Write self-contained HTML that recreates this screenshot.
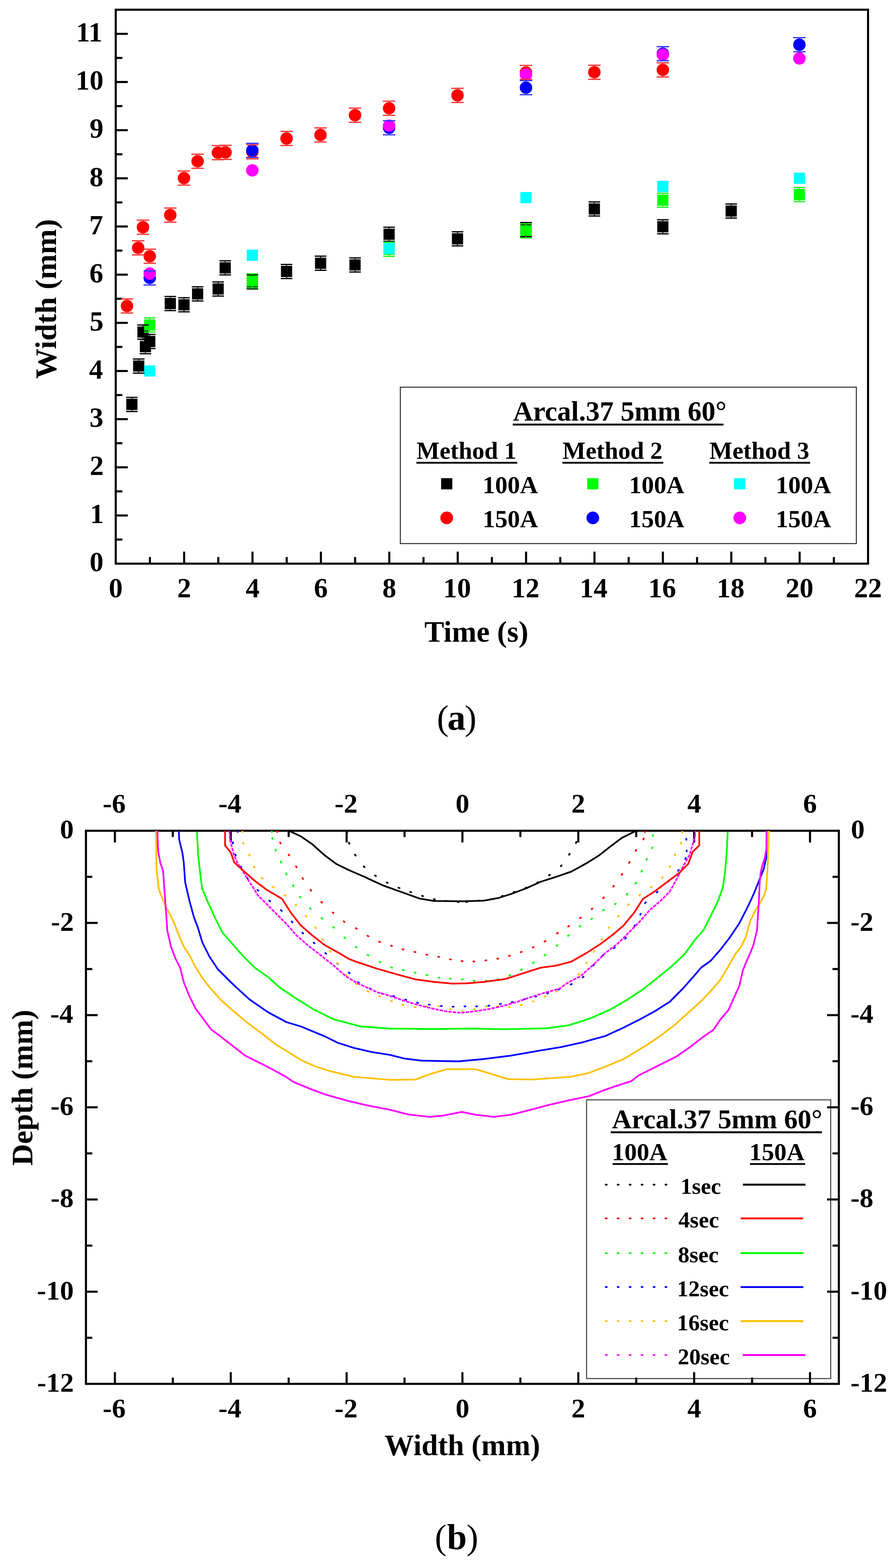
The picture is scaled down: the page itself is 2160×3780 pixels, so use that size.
<!DOCTYPE html>
<html><head><meta charset="utf-8"><style>
html,body{margin:0;padding:0;background:#fff;width:2160px;height:3780px;overflow:hidden;}
svg{display:block;}
text{font-family:'Liberation Serif','Times New Roman',serif;fill:#000;}
</style></head><body>
<svg width="2160" height="3780" viewBox="0 0 2160 3780">
<defs><clipPath id="clipb"><rect x="207.2" y="2002.7" width="1815.0" height="1333.3999999999999"/></clipPath></defs>
<rect width="2160" height="3780" fill="#fff"/>
<line x1="361.4" y1="1358.8" x2="361.4" y2="1342.8" stroke="#000" stroke-width="5"/>
<line x1="443.9" y1="1358.8" x2="443.9" y2="1329.8" stroke="#000" stroke-width="5"/>
<line x1="526.3" y1="1358.8" x2="526.3" y2="1342.8" stroke="#000" stroke-width="5"/>
<line x1="608.7" y1="1358.8" x2="608.7" y2="1329.8" stroke="#000" stroke-width="5"/>
<line x1="691.2" y1="1358.8" x2="691.2" y2="1342.8" stroke="#000" stroke-width="5"/>
<line x1="773.6" y1="1358.8" x2="773.6" y2="1329.8" stroke="#000" stroke-width="5"/>
<line x1="856.1" y1="1358.8" x2="856.1" y2="1342.8" stroke="#000" stroke-width="5"/>
<line x1="938.5" y1="1358.8" x2="938.5" y2="1329.8" stroke="#000" stroke-width="5"/>
<line x1="1020.9" y1="1358.8" x2="1020.9" y2="1342.8" stroke="#000" stroke-width="5"/>
<line x1="1103.4" y1="1358.8" x2="1103.4" y2="1329.8" stroke="#000" stroke-width="5"/>
<line x1="1185.8" y1="1358.8" x2="1185.8" y2="1342.8" stroke="#000" stroke-width="5"/>
<line x1="1268.2" y1="1358.8" x2="1268.2" y2="1329.8" stroke="#000" stroke-width="5"/>
<line x1="1350.7" y1="1358.8" x2="1350.7" y2="1342.8" stroke="#000" stroke-width="5"/>
<line x1="1433.1" y1="1358.8" x2="1433.1" y2="1329.8" stroke="#000" stroke-width="5"/>
<line x1="1515.5" y1="1358.8" x2="1515.5" y2="1342.8" stroke="#000" stroke-width="5"/>
<line x1="1598.0" y1="1358.8" x2="1598.0" y2="1329.8" stroke="#000" stroke-width="5"/>
<line x1="1680.4" y1="1358.8" x2="1680.4" y2="1342.8" stroke="#000" stroke-width="5"/>
<line x1="1762.9" y1="1358.8" x2="1762.9" y2="1329.8" stroke="#000" stroke-width="5"/>
<line x1="1845.3" y1="1358.8" x2="1845.3" y2="1342.8" stroke="#000" stroke-width="5"/>
<line x1="1927.7" y1="1358.8" x2="1927.7" y2="1329.8" stroke="#000" stroke-width="5"/>
<line x1="2010.2" y1="1358.8" x2="2010.2" y2="1342.8" stroke="#000" stroke-width="5"/>
<line x1="279.0" y1="1300.7" x2="295.0" y2="1300.7" stroke="#000" stroke-width="5"/>
<line x1="279.0" y1="1242.7" x2="308.0" y2="1242.7" stroke="#000" stroke-width="5"/>
<line x1="279.0" y1="1184.6" x2="295.0" y2="1184.6" stroke="#000" stroke-width="5"/>
<line x1="279.0" y1="1126.6" x2="308.0" y2="1126.6" stroke="#000" stroke-width="5"/>
<line x1="279.0" y1="1068.5" x2="295.0" y2="1068.5" stroke="#000" stroke-width="5"/>
<line x1="279.0" y1="1010.5" x2="308.0" y2="1010.5" stroke="#000" stroke-width="5"/>
<line x1="279.0" y1="952.4" x2="295.0" y2="952.4" stroke="#000" stroke-width="5"/>
<line x1="279.0" y1="894.4" x2="308.0" y2="894.4" stroke="#000" stroke-width="5"/>
<line x1="279.0" y1="836.3" x2="295.0" y2="836.3" stroke="#000" stroke-width="5"/>
<line x1="279.0" y1="778.3" x2="308.0" y2="778.3" stroke="#000" stroke-width="5"/>
<line x1="279.0" y1="720.2" x2="295.0" y2="720.2" stroke="#000" stroke-width="5"/>
<line x1="279.0" y1="662.1" x2="308.0" y2="662.1" stroke="#000" stroke-width="5"/>
<line x1="279.0" y1="604.1" x2="295.0" y2="604.1" stroke="#000" stroke-width="5"/>
<line x1="279.0" y1="546.0" x2="308.0" y2="546.0" stroke="#000" stroke-width="5"/>
<line x1="279.0" y1="488.0" x2="295.0" y2="488.0" stroke="#000" stroke-width="5"/>
<line x1="279.0" y1="429.9" x2="308.0" y2="429.9" stroke="#000" stroke-width="5"/>
<line x1="279.0" y1="371.9" x2="295.0" y2="371.9" stroke="#000" stroke-width="5"/>
<line x1="279.0" y1="313.8" x2="308.0" y2="313.8" stroke="#000" stroke-width="5"/>
<line x1="279.0" y1="255.8" x2="295.0" y2="255.8" stroke="#000" stroke-width="5"/>
<line x1="279.0" y1="197.7" x2="308.0" y2="197.7" stroke="#000" stroke-width="5"/>
<line x1="279.0" y1="139.7" x2="295.0" y2="139.7" stroke="#000" stroke-width="5"/>
<line x1="279.0" y1="81.6" x2="308.0" y2="81.6" stroke="#000" stroke-width="5"/>
<rect x="279.0" y="23.4" width="1813.6" height="1335.4" fill="none" stroke="#000" stroke-width="5"/>
<text x="216.1" y="1377.4" font-size="67" font-weight="bold" text-anchor="start">0</text>
<text x="217.0" y="1261.3" font-size="67" font-weight="bold" text-anchor="start">1</text>
<text x="216.4" y="1145.2" font-size="67" font-weight="bold" text-anchor="start">2</text>
<text x="215.8" y="1029.1" font-size="67" font-weight="bold" text-anchor="start">3</text>
<text x="214.7" y="913.0" font-size="67" font-weight="bold" text-anchor="start">4</text>
<text x="216.0" y="796.9" font-size="67" font-weight="bold" text-anchor="start">5</text>
<text x="215.5" y="680.7" font-size="67" font-weight="bold" text-anchor="start">6</text>
<text x="215.1" y="564.6" font-size="67" font-weight="bold" text-anchor="start">7</text>
<text x="215.7" y="448.5" font-size="67" font-weight="bold" text-anchor="start">8</text>
<text x="215.9" y="332.4" font-size="67" font-weight="bold" text-anchor="start">9</text>
<text x="182.6" y="216.3" font-size="67" font-weight="bold" text-anchor="start">10</text>
<text x="183.5" y="100.2" font-size="67" font-weight="bold" text-anchor="start">11</text>
<text x="262.2" y="1439.6" font-size="67" font-weight="bold" text-anchor="start">0</text>
<text x="427.2" y="1439.6" font-size="67" font-weight="bold" text-anchor="start">2</text>
<text x="592.2" y="1439.6" font-size="67" font-weight="bold" text-anchor="start">4</text>
<text x="756.7" y="1439.6" font-size="67" font-weight="bold" text-anchor="start">6</text>
<text x="921.7" y="1439.6" font-size="67" font-weight="bold" text-anchor="start">8</text>
<text x="1068.5" y="1439.6" font-size="67" font-weight="bold" text-anchor="start">10</text>
<text x="1233.5" y="1439.6" font-size="67" font-weight="bold" text-anchor="start">12</text>
<text x="1397.5" y="1439.6" font-size="67" font-weight="bold" text-anchor="start">14</text>
<text x="1562.8" y="1439.6" font-size="67" font-weight="bold" text-anchor="start">16</text>
<text x="1727.8" y="1439.6" font-size="67" font-weight="bold" text-anchor="start">18</text>
<text x="1894.1" y="1439.6" font-size="67" font-weight="bold" text-anchor="start">20</text>
<text x="2059.1" y="1439.6" font-size="67" font-weight="bold" text-anchor="start">22</text>
<text x="1022.9" y="1546.8" font-size="71.5" font-weight="bold" text-anchor="start">Time (s)</text>
<text transform="translate(135.1,912.9) rotate(-90)" font-size="72.8" font-weight="bold">Width (mm)</text>
<text x="1053.2" y="1758.5" font-size="85.5" font-weight="normal">(</text>
<text x="1078.5" y="1758.5" font-size="88" font-weight="bold">a</text>
<text x="1120.2" y="1758.5" font-size="85.5" font-weight="normal">)</text>
<rect x="965.1" y="933.4" width="1099.3" height="377" fill="#fff" stroke="#333" stroke-width="2.5"/>
<text x="1236.7" y="1013.6" font-size="67" font-weight="bold" text-anchor="start">Arcal.37 5mm 60&#176;</text>
<line x1="1236.1" y1="1023.5" x2="1744.2" y2="1023.5" stroke="#000" stroke-width="4.6"/>
<text x="1004.0" y="1105.9" font-size="59" font-weight="bold" text-anchor="start">Method 1</text>
<line x1="1003.8" y1="1115.6" x2="1247.0" y2="1115.6" stroke="#000" stroke-width="4.4"/>
<text x="1356.0" y="1105.9" font-size="59" font-weight="bold" text-anchor="start">Method 2</text>
<line x1="1355.8" y1="1115.6" x2="1599.0" y2="1115.6" stroke="#000" stroke-width="4.4"/>
<text x="1710.0" y="1105.9" font-size="59" font-weight="bold" text-anchor="start">Method 3</text>
<line x1="1709.8" y1="1115.6" x2="1953.0" y2="1115.6" stroke="#000" stroke-width="4.4"/>
<rect x="1063.4" y="1152.7" width="27" height="27" fill="#000"/>
<circle cx="1076.9" cy="1248.5" r="15.3" fill="#f00"/>
<text x="1163.5" y="1189.0" font-size="60" font-weight="bold" text-anchor="start">100A</text>
<text x="1163.5" y="1271.0" font-size="60" font-weight="bold" text-anchor="start">150A</text>
<rect x="1415.6" y="1152.7" width="27" height="27" fill="#0f0"/>
<circle cx="1429.1" cy="1248.5" r="15.3" fill="#00f"/>
<text x="1516.6" y="1189.0" font-size="60" font-weight="bold" text-anchor="start">100A</text>
<text x="1516.6" y="1271.0" font-size="60" font-weight="bold" text-anchor="start">150A</text>
<rect x="1769.8" y="1152.7" width="27" height="27" fill="#0ff"/>
<circle cx="1783.3" cy="1248.5" r="15.3" fill="#f0f"/>
<text x="1870.2" y="1189.0" font-size="60" font-weight="bold" text-anchor="start">100A</text>
<text x="1870.2" y="1271.0" font-size="60" font-weight="bold" text-anchor="start">150A</text>
<rect x="304.4" y="961.4" width="27" height="27" fill="#000"/>
<rect x="320.9" y="868.9" width="27" height="27" fill="#000"/>
<rect x="331.2" y="787.0" width="27" height="27" fill="#000"/>
<rect x="337.1" y="822.2" width="27" height="27" fill="#000"/>
<rect x="347.5" y="809.8" width="27" height="27" fill="#000"/>
<rect x="397.0" y="718.3" width="27" height="27" fill="#000"/>
<rect x="430.0" y="721.3" width="27" height="27" fill="#000"/>
<rect x="462.9" y="695.0" width="27" height="27" fill="#000"/>
<rect x="512.4" y="683.2" width="27" height="27" fill="#000"/>
<rect x="529.4" y="632.3" width="27" height="27" fill="#000"/>
<rect x="594.8" y="666.0" width="27" height="27" fill="#000"/>
<rect x="677.3" y="640.9" width="27" height="27" fill="#000"/>
<rect x="759.4" y="621.1" width="27" height="27" fill="#000"/>
<rect x="842.4" y="625.2" width="27" height="27" fill="#000"/>
<rect x="924.5" y="551.3" width="27" height="27" fill="#000"/>
<rect x="1089.4" y="562.3" width="27" height="27" fill="#000"/>
<rect x="1254.5" y="540.0" width="27" height="27" fill="#000"/>
<rect x="1419.3" y="490.3" width="27" height="27" fill="#000"/>
<rect x="1584.4" y="533.2" width="27" height="27" fill="#000"/>
<rect x="1749.2" y="495.3" width="27" height="27" fill="#000"/>
<circle cx="306.1" cy="737.6" r="15" fill="#f00"/>
<circle cx="333.1" cy="597.4" r="15" fill="#f00"/>
<circle cx="344.7" cy="547.8" r="15" fill="#f00"/>
<circle cx="361.0" cy="617.8" r="15" fill="#f00"/>
<circle cx="410.5" cy="518.4" r="15" fill="#f00"/>
<circle cx="443.5" cy="429.3" r="15" fill="#f00"/>
<circle cx="476.4" cy="388.7" r="15" fill="#f00"/>
<circle cx="525.3" cy="368.1" r="15" fill="#f00"/>
<circle cx="543.7" cy="367.3" r="15" fill="#f00"/>
<circle cx="608.3" cy="366.0" r="15" fill="#f00"/>
<circle cx="690.8" cy="333.8" r="15" fill="#f00"/>
<circle cx="772.6" cy="325.3" r="15" fill="#f00"/>
<circle cx="855.9" cy="277.7" r="15" fill="#f00"/>
<circle cx="938.0" cy="261.0" r="15" fill="#f00"/>
<circle cx="1102.9" cy="229.9" r="15" fill="#f00"/>
<circle cx="1268.0" cy="174.7" r="15" fill="#f00"/>
<circle cx="1432.8" cy="174.2" r="15" fill="#f00"/>
<circle cx="1597.9" cy="168.5" r="15" fill="#f00"/>
<rect x="347.5" y="770.0" width="27" height="27" fill="#0f0"/>
<rect x="594.8" y="663.6" width="27" height="27" fill="#0f0"/>
<rect x="924.5" y="587.5" width="27" height="27" fill="#0f0"/>
<rect x="1254.5" y="543.0" width="27" height="27" fill="#0f0"/>
<rect x="1584.4" y="469.2" width="27" height="27" fill="#0f0"/>
<rect x="1913.6" y="455.5" width="27" height="27" fill="#0f0"/>
<circle cx="361.0" cy="670.0" r="15" fill="#00f"/>
<circle cx="608.3" cy="362.6" r="15" fill="#00f"/>
<circle cx="938.0" cy="308.1" r="15" fill="#00f"/>
<circle cx="1268.0" cy="211.3" r="15" fill="#00f"/>
<circle cx="1597.9" cy="129.4" r="15" fill="#00f"/>
<circle cx="1927.1" cy="107.8" r="15" fill="#00f"/>
<rect x="347.5" y="880.7" width="27" height="27" fill="#0ff"/>
<rect x="594.8" y="601.8" width="27" height="27" fill="#0ff"/>
<rect x="924.5" y="585.4" width="27" height="27" fill="#0ff"/>
<rect x="1254.5" y="462.9" width="27" height="27" fill="#0ff"/>
<rect x="1584.4" y="436.0" width="27" height="27" fill="#0ff"/>
<rect x="1913.6" y="416.2" width="27" height="27" fill="#0ff"/>
<circle cx="361.0" cy="659.6" r="15" fill="#f0f"/>
<circle cx="608.3" cy="410.7" r="15" fill="#f0f"/>
<circle cx="938.0" cy="303.0" r="15" fill="#f0f"/>
<circle cx="1268.0" cy="179.7" r="15" fill="#f0f"/>
<circle cx="1597.9" cy="132.0" r="15" fill="#f0f"/>
<circle cx="1927.1" cy="140.8" r="15" fill="#f0f"/>
<path d="M303.9 957.9H331.9M303.9 991.9H331.9" stroke="#000" stroke-width="3" fill="none"/>
<path d="M317.9 957.9V961.9M317.9 987.9V991.9" stroke="#000" stroke-width="2" fill="none"/>
<path d="M320.4 865.4H348.4M320.4 899.4H348.4" stroke="#000" stroke-width="3" fill="none"/>
<path d="M334.4 865.4V869.4M334.4 895.4V899.4" stroke="#000" stroke-width="2" fill="none"/>
<path d="M330.7 783.5H358.7M330.7 817.5H358.7" stroke="#000" stroke-width="3" fill="none"/>
<path d="M344.7 783.5V787.5M344.7 813.5V817.5" stroke="#000" stroke-width="2" fill="none"/>
<path d="M336.6 818.7H364.6M336.6 852.7H364.6" stroke="#000" stroke-width="3" fill="none"/>
<path d="M350.6 818.7V822.7M350.6 848.7V852.7" stroke="#000" stroke-width="2" fill="none"/>
<path d="M347.0 806.3H375.0M347.0 840.3H375.0" stroke="#000" stroke-width="3" fill="none"/>
<path d="M361.0 806.3V810.3M361.0 836.3V840.3" stroke="#000" stroke-width="2" fill="none"/>
<path d="M396.5 714.8H424.5M396.5 748.8H424.5" stroke="#000" stroke-width="3" fill="none"/>
<path d="M410.5 714.8V718.8M410.5 744.8V748.8" stroke="#000" stroke-width="2" fill="none"/>
<path d="M429.5 717.8H457.5M429.5 751.8H457.5" stroke="#000" stroke-width="3" fill="none"/>
<path d="M443.5 717.8V721.8M443.5 747.8V751.8" stroke="#000" stroke-width="2" fill="none"/>
<path d="M462.4 691.5H490.4M462.4 725.5H490.4" stroke="#000" stroke-width="3" fill="none"/>
<path d="M476.4 691.5V695.5M476.4 721.5V725.5" stroke="#000" stroke-width="2" fill="none"/>
<path d="M511.9 679.7H539.9M511.9 713.7H539.9" stroke="#000" stroke-width="3" fill="none"/>
<path d="M525.9 679.7V683.7M525.9 709.7V713.7" stroke="#000" stroke-width="2" fill="none"/>
<path d="M528.9 628.8H556.9M528.9 662.8H556.9" stroke="#000" stroke-width="3" fill="none"/>
<path d="M542.9 628.8V632.8M542.9 658.8V662.8" stroke="#000" stroke-width="2" fill="none"/>
<path d="M594.3 662.5H622.3M594.3 696.5H622.3" stroke="#000" stroke-width="3" fill="none"/>
<path d="M608.3 662.5V666.5M608.3 692.5V696.5" stroke="#000" stroke-width="2" fill="none"/>
<path d="M676.8 637.4H704.8M676.8 671.4H704.8" stroke="#000" stroke-width="3" fill="none"/>
<path d="M690.8 637.4V641.4M690.8 667.4V671.4" stroke="#000" stroke-width="2" fill="none"/>
<path d="M758.9 617.6H786.9M758.9 651.6H786.9" stroke="#000" stroke-width="3" fill="none"/>
<path d="M772.9 617.6V621.6M772.9 647.6V651.6" stroke="#000" stroke-width="2" fill="none"/>
<path d="M841.9 621.7H869.9M841.9 655.7H869.9" stroke="#000" stroke-width="3" fill="none"/>
<path d="M855.9 621.7V625.7M855.9 651.7V655.7" stroke="#000" stroke-width="2" fill="none"/>
<path d="M924.0 547.8H952.0M924.0 581.8H952.0" stroke="#000" stroke-width="3" fill="none"/>
<path d="M938.0 547.8V551.8M938.0 577.8V581.8" stroke="#000" stroke-width="2" fill="none"/>
<path d="M1088.9 558.8H1116.9M1088.9 592.8H1116.9" stroke="#000" stroke-width="3" fill="none"/>
<path d="M1102.9 558.8V562.8M1102.9 588.8V592.8" stroke="#000" stroke-width="2" fill="none"/>
<path d="M1254.0 536.5H1282.0M1254.0 570.5H1282.0" stroke="#000" stroke-width="3" fill="none"/>
<path d="M1268.0 536.5V540.5M1268.0 566.5V570.5" stroke="#000" stroke-width="2" fill="none"/>
<path d="M1418.8 486.8H1446.8M1418.8 520.8H1446.8" stroke="#000" stroke-width="3" fill="none"/>
<path d="M1432.8 486.8V490.8M1432.8 516.8V520.8" stroke="#000" stroke-width="2" fill="none"/>
<path d="M1583.9 529.7H1611.9M1583.9 563.7H1611.9" stroke="#000" stroke-width="3" fill="none"/>
<path d="M1597.9 529.7V533.7M1597.9 559.7V563.7" stroke="#000" stroke-width="2" fill="none"/>
<path d="M1748.7 491.8H1776.7M1748.7 525.8H1776.7" stroke="#000" stroke-width="3" fill="none"/>
<path d="M1762.7 491.8V495.8M1762.7 521.8V525.8" stroke="#000" stroke-width="2" fill="none"/>
<path d="M291.1 720.6H321.1M291.1 754.6H321.1" stroke="#f33" stroke-width="3" fill="none"/>
<path d="M306.1 720.6V724.6M306.1 750.6V754.6" stroke="#f33" stroke-width="2" fill="none"/>
<path d="M318.1 580.4H348.1M318.1 614.4H348.1" stroke="#f33" stroke-width="3" fill="none"/>
<path d="M333.1 580.4V584.4M333.1 610.4V614.4" stroke="#f33" stroke-width="2" fill="none"/>
<path d="M329.7 530.8H359.7M329.7 564.8H359.7" stroke="#f33" stroke-width="3" fill="none"/>
<path d="M344.7 530.8V534.8M344.7 560.8V564.8" stroke="#f33" stroke-width="2" fill="none"/>
<path d="M346.0 600.8H376.0M346.0 634.8H376.0" stroke="#f33" stroke-width="3" fill="none"/>
<path d="M361.0 600.8V604.8M361.0 630.8V634.8" stroke="#f33" stroke-width="2" fill="none"/>
<path d="M395.5 501.4H425.5M395.5 535.4H425.5" stroke="#f33" stroke-width="3" fill="none"/>
<path d="M410.5 501.4V505.4M410.5 531.4V535.4" stroke="#f33" stroke-width="2" fill="none"/>
<path d="M428.5 412.3H458.5M428.5 446.3H458.5" stroke="#f33" stroke-width="3" fill="none"/>
<path d="M443.5 412.3V416.3M443.5 442.3V446.3" stroke="#f33" stroke-width="2" fill="none"/>
<path d="M461.4 371.7H491.4M461.4 405.7H491.4" stroke="#f33" stroke-width="3" fill="none"/>
<path d="M476.4 371.7V375.7M476.4 401.7V405.7" stroke="#f33" stroke-width="2" fill="none"/>
<path d="M510.3 351.1H540.3M510.3 385.1H540.3" stroke="#f33" stroke-width="3" fill="none"/>
<path d="M525.3 351.1V355.1M525.3 381.1V385.1" stroke="#f33" stroke-width="2" fill="none"/>
<path d="M528.7 350.3H558.7M528.7 384.3H558.7" stroke="#f33" stroke-width="3" fill="none"/>
<path d="M543.7 350.3V354.3M543.7 380.3V384.3" stroke="#f33" stroke-width="2" fill="none"/>
<path d="M593.3 349.0H623.3M593.3 383.0H623.3" stroke="#f33" stroke-width="3" fill="none"/>
<path d="M608.3 349.0V353.0M608.3 379.0V383.0" stroke="#f33" stroke-width="2" fill="none"/>
<path d="M675.8 316.8H705.8M675.8 350.8H705.8" stroke="#f33" stroke-width="3" fill="none"/>
<path d="M690.8 316.8V320.8M690.8 346.8V350.8" stroke="#f33" stroke-width="2" fill="none"/>
<path d="M757.6 308.3H787.6M757.6 342.3H787.6" stroke="#f33" stroke-width="3" fill="none"/>
<path d="M772.6 308.3V312.3M772.6 338.3V342.3" stroke="#f33" stroke-width="2" fill="none"/>
<path d="M840.9 260.7H870.9M840.9 294.7H870.9" stroke="#f33" stroke-width="3" fill="none"/>
<path d="M855.9 260.7V264.7M855.9 290.7V294.7" stroke="#f33" stroke-width="2" fill="none"/>
<path d="M923.0 244.0H953.0M923.0 278.0H953.0" stroke="#f33" stroke-width="3" fill="none"/>
<path d="M938.0 244.0V248.0M938.0 274.0V278.0" stroke="#f33" stroke-width="2" fill="none"/>
<path d="M1087.9 212.9H1117.9M1087.9 246.9H1117.9" stroke="#f33" stroke-width="3" fill="none"/>
<path d="M1102.9 212.9V216.9M1102.9 242.9V246.9" stroke="#f33" stroke-width="2" fill="none"/>
<path d="M1253.0 157.7H1283.0M1253.0 191.7H1283.0" stroke="#f33" stroke-width="3" fill="none"/>
<path d="M1268.0 157.7V161.7M1268.0 187.7V191.7" stroke="#f33" stroke-width="2" fill="none"/>
<path d="M1417.8 157.2H1447.8M1417.8 191.2H1447.8" stroke="#f33" stroke-width="3" fill="none"/>
<path d="M1432.8 157.2V161.2M1432.8 187.2V191.2" stroke="#f33" stroke-width="2" fill="none"/>
<path d="M1582.9 151.5H1612.9M1582.9 185.5H1612.9" stroke="#f33" stroke-width="3" fill="none"/>
<path d="M1597.9 151.5V155.5M1597.9 181.5V185.5" stroke="#f33" stroke-width="2" fill="none"/>
<path d="M347.0 766.5H375.0M347.0 800.5H375.0" stroke="#2e2" stroke-width="3" fill="none"/>
<path d="M361.0 766.5V770.5M361.0 796.5V800.5" stroke="#2e2" stroke-width="2" fill="none"/>
<path d="M594.3 660.1H622.3M594.3 694.1H622.3" stroke="#2e2" stroke-width="3" fill="none"/>
<path d="M608.3 660.1V664.1M608.3 690.1V694.1" stroke="#2e2" stroke-width="2" fill="none"/>
<path d="M924.0 584.0H952.0M924.0 618.0H952.0" stroke="#2e2" stroke-width="3" fill="none"/>
<path d="M938.0 584.0V588.0M938.0 614.0V618.0" stroke="#2e2" stroke-width="2" fill="none"/>
<path d="M1254.0 539.5H1282.0M1254.0 573.5H1282.0" stroke="#2e2" stroke-width="3" fill="none"/>
<path d="M1268.0 539.5V543.5M1268.0 569.5V573.5" stroke="#2e2" stroke-width="2" fill="none"/>
<path d="M1583.9 465.7H1611.9M1583.9 499.7H1611.9" stroke="#2e2" stroke-width="3" fill="none"/>
<path d="M1597.9 465.7V469.7M1597.9 495.7V499.7" stroke="#2e2" stroke-width="2" fill="none"/>
<path d="M1913.1 452.0H1941.1M1913.1 486.0H1941.1" stroke="#2e2" stroke-width="3" fill="none"/>
<path d="M1927.1 452.0V456.0M1927.1 482.0V486.0" stroke="#2e2" stroke-width="2" fill="none"/>
<path d="M346.0 653.0H376.0M346.0 687.0H376.0" stroke="#33f" stroke-width="3" fill="none"/>
<path d="M361.0 653.0V657.0M361.0 683.0V687.0" stroke="#33f" stroke-width="2" fill="none"/>
<path d="M593.3 345.6H623.3M593.3 379.6H623.3" stroke="#33f" stroke-width="3" fill="none"/>
<path d="M608.3 345.6V349.6M608.3 375.6V379.6" stroke="#33f" stroke-width="2" fill="none"/>
<path d="M923.0 291.1H953.0M923.0 325.1H953.0" stroke="#33f" stroke-width="3" fill="none"/>
<path d="M938.0 291.1V295.1M938.0 321.1V325.1" stroke="#33f" stroke-width="2" fill="none"/>
<path d="M1253.0 194.3H1283.0M1253.0 228.3H1283.0" stroke="#33f" stroke-width="3" fill="none"/>
<path d="M1268.0 194.3V198.3M1268.0 224.3V228.3" stroke="#33f" stroke-width="2" fill="none"/>
<path d="M1582.9 112.4H1612.9M1582.9 146.4H1612.9" stroke="#33f" stroke-width="3" fill="none"/>
<path d="M1597.9 112.4V116.4M1597.9 142.4V146.4" stroke="#33f" stroke-width="2" fill="none"/>
<path d="M1912.1 90.8H1942.1M1912.1 124.8H1942.1" stroke="#33f" stroke-width="3" fill="none"/>
<path d="M1927.1 90.8V94.8M1927.1 120.8V124.8" stroke="#33f" stroke-width="2" fill="none"/>
<rect x="1414.0" y="2651.4" width="588.6" height="671.9" fill="#fff" stroke="#444" stroke-width="2.5"/>
<text x="1475.2" y="2720.0" font-size="66" font-weight="bold" text-anchor="start">Arcal.37 5mm 60&#176;</text>
<line x1="1472.4" y1="2729.6" x2="1981.3" y2="2729.6" stroke="#000" stroke-width="4.6"/>
<text x="1475.2" y="2796.7" font-size="60" font-weight="bold" text-anchor="start">100A</text>
<line x1="1476.7" y1="2806.1" x2="1610.0" y2="2806.1" stroke="#000" stroke-width="4.4"/>
<text x="1806.2" y="2796.7" font-size="60" font-weight="bold" text-anchor="start">150A</text>
<line x1="1808.0" y1="2806.1" x2="1940.9" y2="2806.1" stroke="#000" stroke-width="4.4"/>
<path d="M1460.2 2855.9L1462.8 2855.9M1489.0 2855.9L1491.5 2855.9M1517.8 2855.9L1520.3 2855.9M1546.7 2855.9L1549.2 2855.9M1575.5 2855.9L1578.0 2855.9M1604.2 2855.9L1606.8 2855.9" stroke="#000" stroke-width="4.2" stroke-linecap="round" fill="none"/>
<line x1="1791.0" y1="2855.9" x2="1941.7" y2="2855.9" stroke="#000" stroke-width="4.6"/>
<text x="1640.5" y="2877.9" font-size="55" font-weight="bold" text-anchor="start">1sec</text>
<path d="M1460.2 2937.3L1462.8 2937.3M1489.0 2937.3L1491.5 2937.3M1517.8 2937.3L1520.3 2937.3M1546.7 2937.3L1549.2 2937.3M1575.5 2937.3L1578.0 2937.3M1604.2 2937.3L1606.8 2937.3" stroke="#f00" stroke-width="4.2" stroke-linecap="round" fill="none"/>
<line x1="1785.4" y1="2937.3" x2="1935.8" y2="2937.3" stroke="#f00" stroke-width="4.6"/>
<text x="1635.6" y="2959.3" font-size="55" font-weight="bold" text-anchor="start">4sec</text>
<path d="M1460.2 3020.9L1462.8 3020.9M1489.0 3020.9L1491.5 3020.9M1517.8 3020.9L1520.3 3020.9M1546.7 3020.9L1549.2 3020.9M1575.5 3020.9L1578.0 3020.9M1604.2 3020.9L1606.8 3020.9" stroke="#0f0" stroke-width="4.2" stroke-linecap="round" fill="none"/>
<line x1="1785.4" y1="3020.9" x2="1936.6" y2="3020.9" stroke="#0f0" stroke-width="4.6"/>
<text x="1634.6" y="3042.9" font-size="55" font-weight="bold" text-anchor="start">8sec</text>
<path d="M1460.2 3102.7L1462.8 3102.7M1489.0 3102.7L1491.5 3102.7M1517.8 3102.7L1520.3 3102.7M1546.7 3102.7L1549.2 3102.7M1575.5 3102.7L1578.0 3102.7M1604.2 3102.7L1606.8 3102.7" stroke="#00f" stroke-width="4.2" stroke-linecap="round" fill="none"/>
<line x1="1785.4" y1="3102.7" x2="1936.6" y2="3102.7" stroke="#00f" stroke-width="4.6"/>
<text x="1632.0" y="3124.7" font-size="55" font-weight="bold" text-anchor="start">12sec</text>
<path d="M1460.2 3184.9L1462.8 3184.9M1489.0 3184.9L1491.5 3184.9M1517.8 3184.9L1520.3 3184.9M1546.7 3184.9L1549.2 3184.9M1575.5 3184.9L1578.0 3184.9M1604.2 3184.9L1606.8 3184.9" stroke="#ffc000" stroke-width="4.2" stroke-linecap="round" fill="none"/>
<line x1="1785.4" y1="3184.9" x2="1936.6" y2="3184.9" stroke="#ffc000" stroke-width="4.6"/>
<text x="1632.0" y="3206.9" font-size="55" font-weight="bold" text-anchor="start">16sec</text>
<path d="M1460.2 3266.6L1462.8 3266.6M1489.0 3266.6L1491.5 3266.6M1517.8 3266.6L1520.3 3266.6M1546.7 3266.6L1549.2 3266.6M1575.5 3266.6L1578.0 3266.6M1604.2 3266.6L1606.8 3266.6" stroke="#f0f" stroke-width="4.2" stroke-linecap="round" fill="none"/>
<line x1="1790.5" y1="3266.6" x2="1941.7" y2="3266.6" stroke="#f0f" stroke-width="4.6"/>
<text x="1634.1" y="3288.6" font-size="55" font-weight="bold" text-anchor="start">20sec</text>
<line x1="277.0" y1="2002.7" x2="277.0" y2="2031.0" stroke="#000" stroke-width="5"/>
<line x1="277.0" y1="3336.1" x2="277.0" y2="3307.8" stroke="#000" stroke-width="5"/>
<line x1="416.6" y1="2002.7" x2="416.6" y2="2017.9" stroke="#000" stroke-width="5"/>
<line x1="416.6" y1="3336.1" x2="416.6" y2="3320.9" stroke="#000" stroke-width="5"/>
<line x1="556.3" y1="2002.7" x2="556.3" y2="2031.0" stroke="#000" stroke-width="5"/>
<line x1="556.3" y1="3336.1" x2="556.3" y2="3307.8" stroke="#000" stroke-width="5"/>
<line x1="695.9" y1="2002.7" x2="695.9" y2="2017.9" stroke="#000" stroke-width="5"/>
<line x1="695.9" y1="3336.1" x2="695.9" y2="3320.9" stroke="#000" stroke-width="5"/>
<line x1="835.6" y1="2002.7" x2="835.6" y2="2031.0" stroke="#000" stroke-width="5"/>
<line x1="835.6" y1="3336.1" x2="835.6" y2="3307.8" stroke="#000" stroke-width="5"/>
<line x1="975.2" y1="2002.7" x2="975.2" y2="2017.9" stroke="#000" stroke-width="5"/>
<line x1="975.2" y1="3336.1" x2="975.2" y2="3320.9" stroke="#000" stroke-width="5"/>
<line x1="1114.8" y1="2002.7" x2="1114.8" y2="2031.0" stroke="#000" stroke-width="5"/>
<line x1="1114.8" y1="3336.1" x2="1114.8" y2="3307.8" stroke="#000" stroke-width="5"/>
<line x1="1254.5" y1="2002.7" x2="1254.5" y2="2017.9" stroke="#000" stroke-width="5"/>
<line x1="1254.5" y1="3336.1" x2="1254.5" y2="3320.9" stroke="#000" stroke-width="5"/>
<line x1="1394.1" y1="2002.7" x2="1394.1" y2="2031.0" stroke="#000" stroke-width="5"/>
<line x1="1394.1" y1="3336.1" x2="1394.1" y2="3307.8" stroke="#000" stroke-width="5"/>
<line x1="1533.8" y1="2002.7" x2="1533.8" y2="2017.9" stroke="#000" stroke-width="5"/>
<line x1="1533.8" y1="3336.1" x2="1533.8" y2="3320.9" stroke="#000" stroke-width="5"/>
<line x1="1673.4" y1="2002.7" x2="1673.4" y2="2031.0" stroke="#000" stroke-width="5"/>
<line x1="1673.4" y1="3336.1" x2="1673.4" y2="3307.8" stroke="#000" stroke-width="5"/>
<line x1="1813.0" y1="2002.7" x2="1813.0" y2="2017.9" stroke="#000" stroke-width="5"/>
<line x1="1813.0" y1="3336.1" x2="1813.0" y2="3320.9" stroke="#000" stroke-width="5"/>
<line x1="1952.7" y1="2002.7" x2="1952.7" y2="2031.0" stroke="#000" stroke-width="5"/>
<line x1="1952.7" y1="3336.1" x2="1952.7" y2="3307.8" stroke="#000" stroke-width="5"/>
<line x1="207.2" y1="2113.8" x2="222.5" y2="2113.8" stroke="#000" stroke-width="5"/>
<line x1="2022.2" y1="2113.8" x2="2006.9" y2="2113.8" stroke="#000" stroke-width="5"/>
<line x1="207.2" y1="2224.9" x2="235.5" y2="2224.9" stroke="#000" stroke-width="5"/>
<line x1="2022.2" y1="2224.9" x2="1993.9" y2="2224.9" stroke="#000" stroke-width="5"/>
<line x1="207.2" y1="2336.1" x2="222.5" y2="2336.1" stroke="#000" stroke-width="5"/>
<line x1="2022.2" y1="2336.1" x2="2006.9" y2="2336.1" stroke="#000" stroke-width="5"/>
<line x1="207.2" y1="2447.2" x2="235.5" y2="2447.2" stroke="#000" stroke-width="5"/>
<line x1="2022.2" y1="2447.2" x2="1993.9" y2="2447.2" stroke="#000" stroke-width="5"/>
<line x1="207.2" y1="2558.3" x2="222.5" y2="2558.3" stroke="#000" stroke-width="5"/>
<line x1="2022.2" y1="2558.3" x2="2006.9" y2="2558.3" stroke="#000" stroke-width="5"/>
<line x1="207.2" y1="2669.4" x2="235.5" y2="2669.4" stroke="#000" stroke-width="5"/>
<line x1="2022.2" y1="2669.4" x2="1993.9" y2="2669.4" stroke="#000" stroke-width="5"/>
<line x1="207.2" y1="2780.5" x2="222.5" y2="2780.5" stroke="#000" stroke-width="5"/>
<line x1="2022.2" y1="2780.5" x2="2006.9" y2="2780.5" stroke="#000" stroke-width="5"/>
<line x1="207.2" y1="2891.6" x2="235.5" y2="2891.6" stroke="#000" stroke-width="5"/>
<line x1="2022.2" y1="2891.6" x2="1993.9" y2="2891.6" stroke="#000" stroke-width="5"/>
<line x1="207.2" y1="3002.8" x2="222.5" y2="3002.8" stroke="#000" stroke-width="5"/>
<line x1="2022.2" y1="3002.8" x2="2006.9" y2="3002.8" stroke="#000" stroke-width="5"/>
<line x1="207.2" y1="3113.9" x2="235.5" y2="3113.9" stroke="#000" stroke-width="5"/>
<line x1="2022.2" y1="3113.9" x2="1993.9" y2="3113.9" stroke="#000" stroke-width="5"/>
<line x1="207.2" y1="3225.0" x2="222.5" y2="3225.0" stroke="#000" stroke-width="5"/>
<line x1="2022.2" y1="3225.0" x2="2006.9" y2="3225.0" stroke="#000" stroke-width="5"/>
<rect x="207.2" y="2002.7" width="1815.0" height="1333.4" fill="none" stroke="#000" stroke-width="5"/>
<text x="247.6" y="1958.6" font-size="66.5" font-weight="bold" text-anchor="start">-6</text>
<text x="247.6" y="3417.4" font-size="66.5" font-weight="bold" text-anchor="start">-6</text>
<text x="526.5" y="1958.6" font-size="66.5" font-weight="bold" text-anchor="start">-4</text>
<text x="526.5" y="3417.4" font-size="66.5" font-weight="bold" text-anchor="start">-4</text>
<text x="806.6" y="1958.6" font-size="66.5" font-weight="bold" text-anchor="start">-2</text>
<text x="806.6" y="3417.4" font-size="66.5" font-weight="bold" text-anchor="start">-2</text>
<text x="1098.2" y="1958.6" font-size="66.5" font-weight="bold" text-anchor="start">0</text>
<text x="1098.2" y="3417.4" font-size="66.5" font-weight="bold" text-anchor="start">0</text>
<text x="1377.5" y="1958.6" font-size="66.5" font-weight="bold" text-anchor="start">2</text>
<text x="1377.5" y="3417.4" font-size="66.5" font-weight="bold" text-anchor="start">2</text>
<text x="1656.9" y="1958.6" font-size="66.5" font-weight="bold" text-anchor="start">4</text>
<text x="1656.9" y="3417.4" font-size="66.5" font-weight="bold" text-anchor="start">4</text>
<text x="1935.9" y="1958.6" font-size="66.5" font-weight="bold" text-anchor="start">6</text>
<text x="1935.9" y="3417.4" font-size="66.5" font-weight="bold" text-anchor="start">6</text>
<text x="144.5" y="2021.3" font-size="66.5" font-weight="bold" text-anchor="start">0</text>
<text x="2051.2" y="2021.3" font-size="66.5" font-weight="bold" text-anchor="start">0</text>
<text x="122.7" y="2243.5" font-size="66.5" font-weight="bold" text-anchor="start">-2</text>
<text x="2050.2" y="2243.5" font-size="66.5" font-weight="bold" text-anchor="start">-2</text>
<text x="121.0" y="2465.8" font-size="66.5" font-weight="bold" text-anchor="start">-4</text>
<text x="2050.2" y="2465.8" font-size="66.5" font-weight="bold" text-anchor="start">-4</text>
<text x="121.8" y="2688.0" font-size="66.5" font-weight="bold" text-anchor="start">-6</text>
<text x="2050.2" y="2688.0" font-size="66.5" font-weight="bold" text-anchor="start">-6</text>
<text x="122.0" y="2910.2" font-size="66.5" font-weight="bold" text-anchor="start">-8</text>
<text x="2050.2" y="2910.2" font-size="66.5" font-weight="bold" text-anchor="start">-8</text>
<text x="89.1" y="3132.5" font-size="66.5" font-weight="bold" text-anchor="start">-10</text>
<text x="2050.2" y="3132.5" font-size="66.5" font-weight="bold" text-anchor="start">-10</text>
<text x="89.4" y="3354.7" font-size="66.5" font-weight="bold" text-anchor="start">-12</text>
<text x="2050.2" y="3354.7" font-size="66.5" font-weight="bold" text-anchor="start">-12</text>
<text x="926.8" y="3507.9" font-size="71" font-weight="bold" text-anchor="start">Width (mm)</text>
<text transform="translate(78.3,2810.1) rotate(-90)" font-size="72.4" font-weight="bold">Depth (mm)</text>
<text x="1048.3" y="3733.5" font-size="85" font-weight="normal">(</text>
<text x="1077.5" y="3733.8" font-size="86" font-weight="bold">b</text>
<text x="1124.7" y="3733.5" font-size="85" font-weight="normal">)</text>
<g clip-path="url(#clipb)">
<path d="M836.3 2004.8L836.7 2007.2M841.3 2031.7L842.1 2034.1M855.8 2060.3L857.2 2062.5M876.9 2088.7L878.7 2090.5M904.2 2110.5L906.2 2111.9M932.3 2127.4L934.5 2128.6M960.7 2139.9L963.1 2140.9M988.9 2150.3L991.3 2151.1M1017.4 2159.6L1019.8 2160.4M1045.9 2167.6L1048.3 2168.2M1074.0 2171.9L1076.4 2172.1M1103.2 2174.3L1105.6 2174.5M1123.8 2174.5L1126.2 2174.3M1153.0 2171.4L1155.4 2171.2M1181.2 2168.1L1183.6 2167.7M1209.7 2160.4L1212.1 2159.6M1238.2 2150.8L1240.6 2150.0M1266.7 2140.6L1269.1 2139.6M1294.9 2128.0L1297.1 2126.8M1323.6 2110.2L1325.6 2108.8M1352.1 2088.1L1353.9 2086.3M1371.9 2060.5L1373.3 2058.3M1388.5 2032.0L1389.5 2029.6M1394.2 2007.2L1394.8 2004.8" stroke="#000" stroke-width="4.2" stroke-linecap="round" fill="none"/>
<path d="M667.7 2003.2L668.3 2005.6M675.3 2031.1L676.5 2033.3M695.8 2060.1L697.2 2062.1M713.7 2088.5L714.9 2090.7M729.1 2116.6L730.5 2118.8M748.5 2145.2L750.1 2147.2M774.5 2173.9L776.3 2175.7M802.0 2199.7L803.8 2201.3M828.4 2221.1L830.4 2222.5M857.8 2237.7L860.0 2238.9M885.9 2255.9L888.1 2257.1M913.7 2270.1L916.1 2271.1M942.5 2279.8L944.9 2280.6M970.3 2288.5L972.7 2289.1M999.2 2294.7L1001.6 2295.3M1027.7 2301.3L1030.1 2301.7M1056.2 2306.4L1058.6 2306.8M1084.7 2312.6L1087.1 2313.0M1112.8 2316.8L1115.2 2317.0M1141.0 2317.9L1143.4 2317.9M1170.2 2315.3L1172.6 2315.1M1198.7 2311.3L1201.1 2310.9M1226.8 2304.5L1229.2 2303.9M1255.4 2295.4L1257.8 2294.6M1284.3 2284.1L1286.5 2283.1M1312.8 2269.8L1315.0 2268.6M1342.6 2250.3L1344.8 2248.9M1369.8 2233.7L1371.8 2232.3M1398.3 2213.3L1400.3 2211.9M1426.3 2191.8L1428.1 2190.2M1454.1 2165.2L1455.9 2163.4M1478.3 2137.5L1479.9 2135.5M1498.8 2109.0L1500.2 2107.0M1516.7 2080.1L1517.9 2077.9M1532.3 2051.2L1533.5 2049.0M1550.9 2023.7L1551.9 2021.5M1554.8 2005.6L1555.2 2003.2" stroke="#f00" stroke-width="4.2" stroke-linecap="round" fill="none"/>
<path d="M655.1 2003.2L655.3 2005.6M656.3 2019.7L656.9 2022.1M664.1 2048.2L664.9 2050.6M676.7 2077.2L677.7 2079.4M689.7 2105.7L690.9 2107.9M706.2 2134.2L707.4 2136.4M723.1 2161.7L724.7 2163.7M747.1 2189.3L748.9 2191.1M775.1 2213.1L777.1 2214.7M803.3 2234.7L805.3 2236.3M830.2 2259.8L832.0 2261.4M857.9 2282.9L859.9 2284.3M886.3 2301.8L888.5 2303.2M915.1 2318.4L917.3 2319.6M942.9 2332.0L945.3 2332.8M971.0 2338.3L973.4 2338.9M999.5 2344.4L1001.9 2345.0M1027.7 2350.3L1030.1 2350.9M1056.9 2356.6L1059.3 2357.0M1084.7 2359.1L1087.1 2359.3M1113.5 2360.8L1115.9 2361.0M1142.0 2364.2L1144.4 2364.4M1170.9 2364.4L1173.3 2364.2M1199.4 2361.2L1201.8 2360.6M1227.9 2351.8L1230.3 2350.8M1256.1 2338.1L1258.3 2336.9M1284.6 2321.4L1286.8 2320.0M1312.9 2303.2L1314.9 2301.8M1342.0 2280.1L1344.0 2278.5M1369.4 2256.0L1371.4 2254.4M1397.2 2233.7L1399.2 2232.3M1425.4 2215.8L1427.4 2214.4M1453.9 2194.7L1456.1 2193.3M1482.5 2179.9L1484.5 2178.5M1510.8 2156.7L1512.6 2154.9M1532.2 2130.2L1533.6 2128.0M1546.5 2101.3L1547.5 2099.1M1558.3 2072.7L1559.3 2070.5M1572.3 2045.0L1572.9 2042.6M1573.7 2015.3L1573.7 2012.9" stroke="#0f0" stroke-width="4.2" stroke-linecap="round" fill="none"/>
<path d="M574.0 2003.3L573.0 2005.5M561.6 2030.7L561.4 2033.1M567.3 2059.9L568.1 2062.3M580.8 2089.2L582.0 2091.4M596.2 2116.7L597.6 2118.7M620.7 2145.3L622.5 2147.1M649.2 2171.2L651.0 2172.8M677.3 2194.1L679.1 2195.9M703.1 2221.6L704.9 2223.4M728.9 2248.4L730.7 2250.2M756.3 2272.5L758.1 2274.1M784.5 2297.6L786.3 2299.2M812.9 2322.3L814.9 2323.9M840.8 2344.6L842.6 2346.2M863.0 2367.7L865.0 2369.1M891.4 2382.7L893.6 2383.7M920.2 2394.8L922.6 2395.6M948.0 2401.1L950.4 2401.7M976.8 2409.7L979.2 2410.3M1005.4 2417.2L1007.8 2417.8M1033.9 2421.8L1036.3 2422.2M1062.7 2425.0L1065.1 2425.2M1091.2 2426.8L1093.6 2426.8M1119.7 2426.1L1122.1 2426.1M1147.9 2426.1L1150.3 2426.1M1177.1 2424.5L1179.5 2424.3M1205.2 2420.5L1207.6 2420.1M1233.7 2416.0L1236.1 2415.6M1262.2 2409.3L1264.6 2408.7M1290.4 2402.4L1292.8 2401.8M1318.9 2394.9L1321.3 2394.1M1346.2 2385.4L1348.6 2384.6M1376.0 2373.4L1378.2 2372.2M1404.7 2356.2L1406.7 2354.6M1430.1 2327.7L1431.7 2325.9M1452.1 2304.2L1454.1 2302.6M1480.0 2285.7L1482.0 2284.1M1507.2 2262.8L1508.8 2261.0M1529.2 2232.9L1530.6 2230.7M1543.5 2205.1L1544.5 2202.9M1555.1 2177.2L1556.7 2175.2M1583.2 2151.5L1585.0 2149.7M1610.6 2125.2L1612.4 2123.4M1634.8 2099.3L1636.4 2097.3M1652.2 2070.9L1653.2 2068.5M1655.3 2052.4L1655.3 2050.0M1654.5 2024.6L1654.5 2022.2" stroke="#00f" stroke-width="4.2" stroke-linecap="round" fill="none"/>
<path d="M584.4 2003.2L584.6 2005.6M586.3 2031.7L586.9 2034.1M600.5 2060.3L601.5 2062.5M612.4 2089.2L613.6 2091.4M631.0 2116.2L632.8 2118.0M657.7 2137.9L659.7 2139.5M685.8 2157.5L687.8 2159.1M712.7 2180.7L714.5 2182.5M736.9 2207.9L738.5 2209.7M760.0 2235.6L761.4 2237.6M777.1 2263.6L778.5 2265.8M795.3 2292.8L796.7 2295.0M813.2 2321.4L814.6 2323.4M833.7 2349.7L835.3 2351.5M857.9 2371.1L859.9 2372.7M885.9 2389.5L888.1 2390.7M914.3 2401.6L916.7 2402.6M942.5 2413.0L944.9 2413.8M970.3 2422.4L972.7 2423.0M999.2 2427.7L1001.6 2427.9M1027.7 2426.2L1030.1 2426.0M1056.9 2425.2L1059.3 2425.6M1084.7 2432.7L1087.1 2433.3M1113.5 2438.1L1116.0 2438.1M1142.0 2433.3L1144.4 2432.7M1170.2 2426.3L1172.6 2425.9M1198.7 2426.1L1201.1 2426.1M1226.8 2427.9L1229.2 2427.7M1255.4 2423.0L1257.8 2422.4M1284.2 2414.5L1286.6 2413.7M1312.8 2402.6L1315.0 2401.6M1340.8 2390.4L1343.0 2389.2M1367.5 2370.8L1369.5 2369.2M1394.0 2349.9L1395.8 2348.1M1413.5 2322.2L1414.9 2320.2M1432.0 2294.4L1433.4 2292.4M1449.8 2266.3L1451.2 2264.1M1467.3 2236.9L1468.7 2234.9M1490.2 2209.7L1491.8 2207.9M1514.2 2181.9L1516.0 2180.1M1541.2 2158.4L1543.2 2156.8M1569.0 2139.2L1571.0 2137.6M1595.9 2117.0L1597.5 2115.2M1614.6 2090.5L1615.8 2088.3M1627.0 2061.6L1628.0 2059.4M1641.2 2033.9L1642.0 2031.5M1644.8 2007.2L1645.2 2004.8" stroke="#ffc000" stroke-width="4.2" stroke-linecap="round" fill="none"/>
<polyline points="552.9,2003.0 554.6,2024.3 563.2,2058.7 573.5,2082.7 585.5,2099.9 597.6,2120.5 611.3,2141.1 621.6,2158.3 638.8,2175.4 662.8,2199.5 690.3,2227.0 714.3,2254.4 741.8,2278.5 772.7,2302.5 807.0,2330.0 834.5,2354.0 864.0,2371.2 908.7,2391.8 940.0,2400.6 974.3,2412.6 1008.7,2422.9 1043.0,2431.5 1077.4,2438.4 1111.7,2441.8 1146.0,2437.7 1180.4,2432.2 1214.7,2424.6 1249.1,2414.3 1283.4,2402.3 1317.7,2392.0 1348.7,2383.4 1369.7,2368.3 1399.3,2353.5 1436.4,2320.1 1458.7,2297.9 1488.4,2275.6 1514.3,2249.6 1540.3,2223.7 1566.3,2194.0 1592.2,2171.8 1614.5,2149.5 1633.0,2116.1 1647.9,2086.4 1662.7,2060.5 1670.1,2034.5 1675.7,2014.1 1676.0,2003.0" fill="none" stroke="#f0f" stroke-width="4.0" stroke-linejoin="round" stroke-dasharray="8 2.5"/>
<polyline points="697.1,2003.0 724.6,2015.8 752.1,2034.6 783.0,2062.1 810.5,2082.7 840.0,2097.1 874.3,2111.9 922.4,2134.2 970.5,2151.4 1011.7,2166.2 1046.0,2172.0 1114.7,2172.7 1166.2,2171.3 1200.6,2165.1 1234.9,2154.1 1269.3,2141.1 1303.6,2125.6 1340.0,2114.0 1377.1,2101.3 1414.2,2080.9 1443.9,2062.3 1469.8,2041.9 1499.5,2019.7 1532.9,2003.0" fill="none" stroke="#000" stroke-width="4.1" stroke-linejoin="round"/>
<polyline points="542.6,2003.0 542.6,2038.1 556.3,2055.2 564.9,2079.3 583.8,2096.5 614.7,2123.9 642.2,2144.5 680.0,2166.9 700.6,2199.5 724.6,2230.4 752.1,2254.4 783.0,2278.5 813.9,2295.6 840.0,2311.1 857.2,2318.0 908.7,2335.1 960.2,2349.9 1001.4,2360.9 1046.0,2367.1 1090.7,2371.2 1125.0,2370.5 1166.2,2367.1 1217.7,2360.2 1234.9,2354.7 1269.3,2343.7 1303.6,2332.7 1340.0,2328.0 1377.1,2318.3 1414.2,2297.1 1447.6,2275.6 1477.2,2253.4 1503.2,2231.1 1529.2,2199.6 1549.6,2167.3 1577.4,2149.5 1607.1,2127.2 1636.7,2105.0 1659.0,2082.7 1670.1,2053.1 1685.7,2038.2 1685.7,2003.0" fill="none" stroke="#f00" stroke-width="4.1" stroke-linejoin="round"/>
<polyline points="475.0,2005.0 477.4,2058.7 482.5,2103.3 487.0,2141.1 501.4,2175.4 518.6,2213.2 535.7,2247.6 559.8,2275.0 583.8,2302.5 614.7,2333.4 649.1,2357.4 673.5,2380.0 714.7,2407.5 755.9,2433.2 804.0,2457.3 869.2,2474.4 940.0,2479.6 1043.0,2480.6 1146.0,2479.6 1214.7,2481.3 1317.7,2478.9 1369.3,2472.0 1403.6,2461.5 1430.0,2452.0 1469.5,2434.7 1512.3,2410.0 1551.9,2383.6 1584.9,2357.3 1617.8,2330.9 1650.8,2299.6 1675.0,2266.0 1696.1,2242.2 1710.9,2212.6 1729.5,2175.5 1742.4,2140.2 1748.0,2101.3 1751.7,2056.8 1754.3,2005.0" fill="none" stroke="#0f0" stroke-width="4.1" stroke-linejoin="round"/>
<polyline points="431.0,2003.0 432.0,2024.3 439.6,2055.2 443.0,2079.3 446.5,2127.4 456.8,2172.0 467.1,2209.8 477.4,2237.3 487.7,2271.6 504.8,2305.9 525.4,2336.8 552.9,2364.3 567.1,2378.0 601.4,2409.2 646.0,2440.1 690.7,2464.1 725.0,2474.4 783.4,2498.5 814.3,2513.9 852.1,2525.9 896.7,2536.2 940.0,2543.1 974.3,2551.7 1015.5,2556.9 1104.8,2558.6 1163.2,2553.4 1231.9,2544.8 1300.6,2532.8 1352.1,2524.2 1403.6,2513.0 1430.0,2505.5 1459.6,2497.4 1502.4,2477.6 1542.0,2457.8 1578.3,2438.0 1614.5,2415.0 1644.2,2385.3 1670.6,2355.6 1690.4,2332.5 1713.4,2316.0 1736.5,2289.7 1760.0,2259.2 1782.0,2226.3 1801.8,2187.8 1817.1,2154.8 1830.3,2121.9 1841.3,2094.4 1847.4,2066.9 1848.0,2003.0" fill="none" stroke="#00f" stroke-width="4.1" stroke-linejoin="round"/>
<polyline points="376.1,2003.0 377.1,2093.0 382.9,2144.5 398.4,2182.3 419.0,2223.5 432.7,2257.9 443.0,2281.9 456.8,2302.5 470.5,2330.0 487.7,2357.4 505.2,2380.0 532.7,2410.9 563.6,2438.4 601.4,2469.3 635.7,2495.0 666.6,2519.1 697.6,2538.0 725.0,2555.1 759.4,2570.6 797.1,2582.6 852.1,2595.7 886.4,2598.7 940.0,2603.2 1001.8,2602.5 1036.2,2589.5 1077.4,2577.5 1146.0,2577.5 1180.4,2587.8 1225.0,2601.5 1283.4,2602.5 1376.1,2595.7 1420.0,2586.4 1462.9,2569.9 1505.7,2551.8 1535.4,2533.7 1565.1,2515.5 1591.4,2497.4 1624.4,2472.7 1657.4,2443.0 1690.4,2413.3 1716.7,2385.3 1736.5,2362.2 1756.3,2329.2 1772.8,2299.6 1786.0,2283.1 1797.5,2260.0 1808.4,2220.8 1821.5,2193.3 1832.5,2176.8 1842.4,2158.1 1846.8,2143.8 1850.1,2099.9 1852.3,2044.9 1853.4,2003.0" fill="none" stroke="#ffc000" stroke-width="4.1" stroke-linejoin="round"/>
<polyline points="379.5,2003.0 381.2,2051.8 386.4,2079.3 393.2,2099.9 395.6,2134.2 400.1,2196.0 403.5,2244.1 412.1,2281.9 422.4,2309.4 434.4,2333.4 443.0,2367.7 456.8,2402.1 472.6,2433.2 484.6,2448.7 508.7,2481.3 529.3,2496.8 560.2,2520.8 591.1,2544.8 618.6,2558.6 646.0,2572.3 687.3,2594.6 707.9,2608.4 749.1,2625.5 786.8,2639.3 841.8,2654.7 886.4,2665.0 940.0,2675.3 984.6,2686.7 1036.2,2692.5 1070.5,2689.1 1113.4,2680.5 1146.0,2687.3 1190.7,2692.5 1231.9,2687.3 1266.2,2678.8 1317.7,2665.0 1369.3,2653.0 1420.0,2642.5 1453.0,2629.3 1485.9,2617.7 1522.2,2606.2 1538.7,2593.0 1584.9,2569.9 1631.0,2546.8 1664.0,2523.8 1693.7,2500.7 1720.0,2482.5 1736.5,2457.8 1756.3,2434.7 1769.5,2405.1 1782.7,2375.4 1790.9,2339.1 1797.5,2322.6 1809.1,2296.3 1815.6,2279.8 1818.2,2270.0 1824.8,2242.7 1829.2,2176.8 1831.4,2127.4 1833.6,2105.4 1836.9,2088.9 1843.5,2069.1 1847.9,2044.9 1848.5,2003.0" fill="none" stroke="#f0f" stroke-width="4.1" stroke-linejoin="round"/>
</g>
</svg></body></html>
